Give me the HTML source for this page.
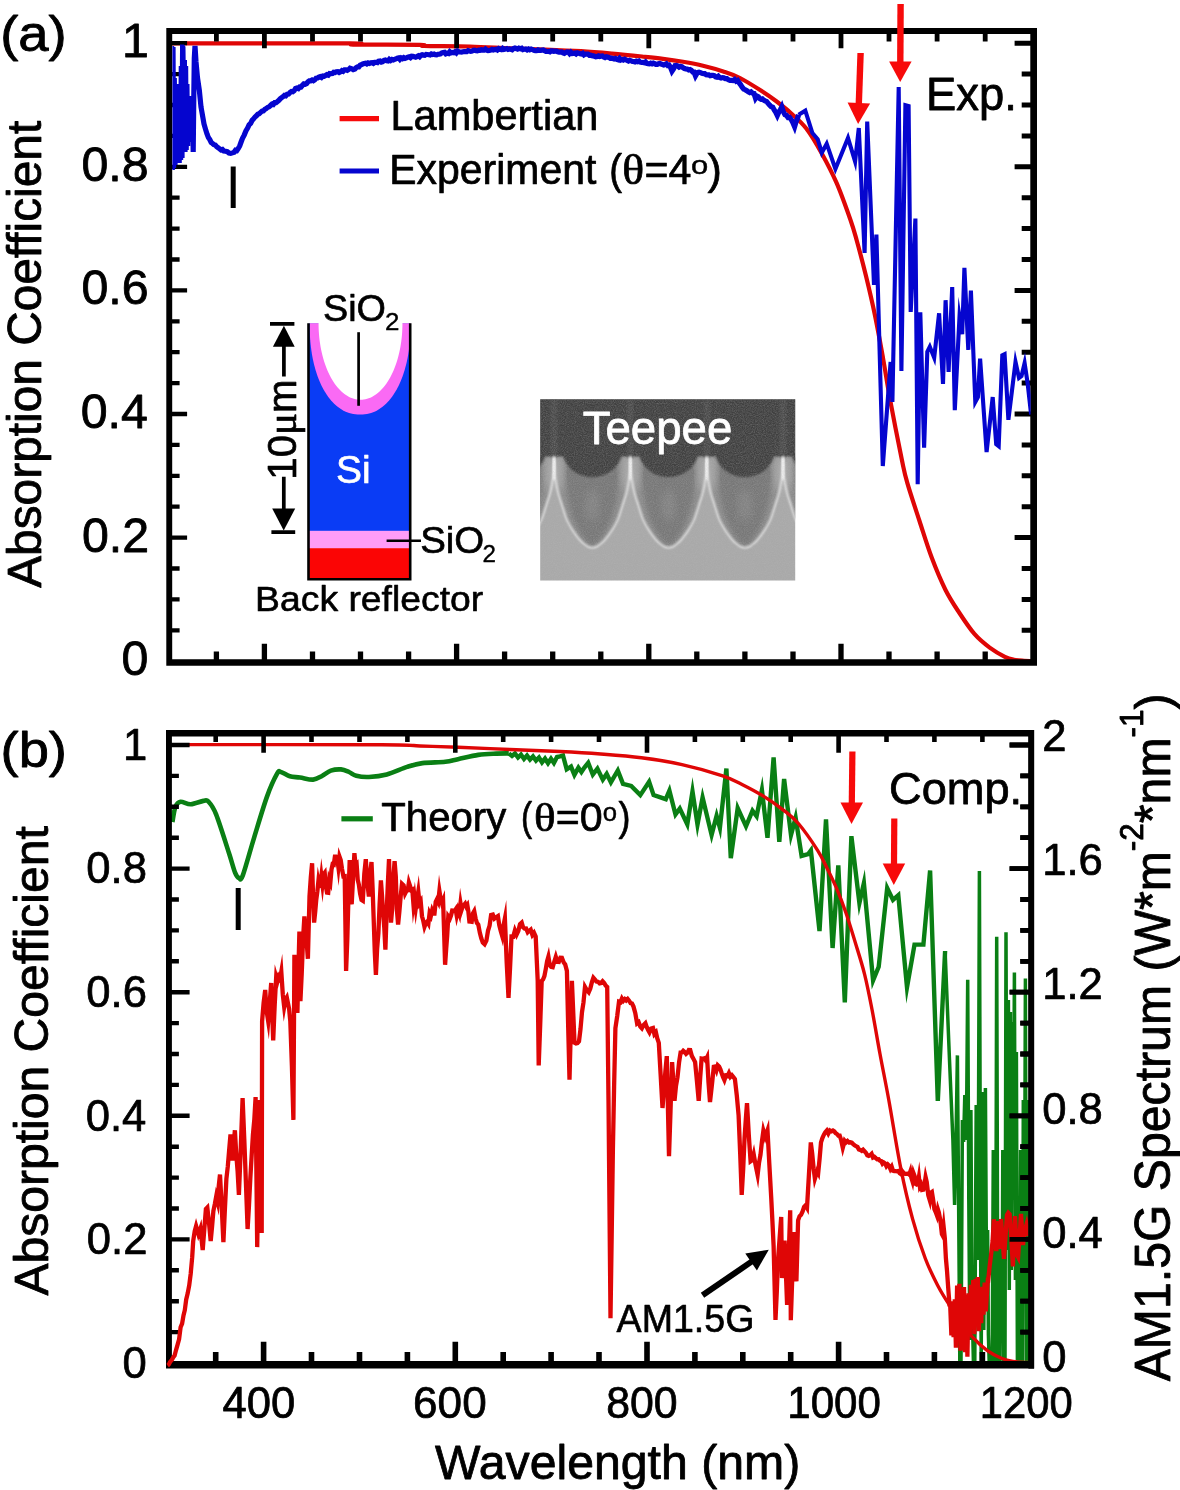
<!DOCTYPE html>
<html lang="en"><head><meta charset="utf-8"><title>Absorption coefficient: Lambertian, experiment and theory</title>
<style>html,body{margin:0;padding:0;background:#fff}svg{display:block}text{font-family:'Liberation Sans', Arial, Helvetica, sans-serif;fill:#000;stroke:#000;stroke-width:0.017em;stroke-linejoin:round}</style>
</head><body>
<svg width="1180" height="1490" viewBox="0 0 1180 1490">
<rect x="0" y="0" width="1180" height="1490" fill="#ffffff"/>
<g id="panel-a">
<clipPath id="clipA"><rect x="169.2" y="31.0" width="864.4" height="631.5"/></clipPath>
<g clip-path="url(#clipA)" fill="none" stroke-linejoin="miter" stroke-miterlimit="3">
<path d="M170.00 43.40 C200.00 43.40 319.50 43.20 350.00 43.40 C380.50 43.60 341.33 44.37 353.00 44.60 C364.67 44.83 408.17 44.58 420.00 44.80 C431.83 45.02 415.67 45.62 424.00 45.90 C432.33 46.18 455.67 46.10 470.00 46.50 C484.33 46.90 497.50 47.80 510.00 48.30 C522.50 48.80 533.17 49.02 545.00 49.50 C556.83 49.98 569.83 50.52 581.00 51.20 C592.17 51.88 601.83 52.72 612.00 53.60 C622.17 54.48 633.50 55.63 642.00 56.50 C650.50 57.37 656.17 57.92 663.00 58.80 C669.83 59.68 676.33 60.63 683.00 61.80 C689.67 62.97 696.17 64.15 703.00 65.80 C709.83 67.45 717.83 69.67 724.00 71.70 C730.17 73.73 733.92 74.90 740.00 78.00 C746.08 81.10 754.50 86.47 760.50 90.30 C766.50 94.13 770.92 97.18 776.00 101.00 C781.08 104.82 785.95 108.62 791.00 113.20 C796.05 117.78 801.22 121.88 806.30 128.50 C811.38 135.12 816.42 143.75 821.50 152.90 C826.58 162.05 831.97 172.22 836.80 183.40 C841.63 194.58 847.20 210.57 850.50 220.00 C853.80 229.43 854.02 230.67 856.60 240.00 C859.18 249.33 862.95 263.50 866.00 276.00 C869.05 288.50 872.07 301.33 874.90 315.00 C877.73 328.67 880.38 343.45 883.00 358.00 C885.62 372.55 887.45 385.30 890.60 402.30 C893.75 419.30 899.12 446.57 901.90 460.00 C904.68 473.43 904.37 472.73 907.30 482.90 C910.23 493.07 915.43 508.55 919.50 521.00 C923.57 533.45 927.38 546.15 931.70 557.60 C936.02 569.05 940.83 580.55 945.40 589.70 C949.97 598.85 954.27 605.13 959.10 612.50 C963.93 619.87 969.30 628.05 974.40 633.90 C979.50 639.75 984.62 643.78 989.70 647.60 C994.78 651.42 1000.85 654.77 1004.90 656.80 C1008.95 658.83 1010.82 659.13 1014.00 659.80 C1017.18 660.47 1021.17 660.60 1024.00 660.80 C1026.83 661.00 1029.83 660.97 1031.00 661.00" stroke="#df0606" stroke-width="4.2"/>
</g>
<path d="M166.3 28.0H1037.0V665.8H166.3ZM172.2 34.0V659.2H1030.3V34.0Z" fill="#000" fill-rule="evenodd"/>
<path d="M216.4 664.8V651.5M264.4 664.8V643.7M312.5 664.8V651.5M360.5 664.8V651.5M408.6 664.8V651.5M456.6 664.8V643.7M504.6 664.8V651.5M552.7 664.8V651.5M600.8 664.8V651.5M648.8 664.8V643.7M696.8 664.8V651.5M744.9 664.8V651.5M793.0 664.8V651.5M841.0 664.8V643.7M889.0 664.8V651.5M937.1 664.8V651.5M985.2 664.8V651.5" stroke="#000" stroke-width="5.3" fill="none"/><path d="M216.4 29.0V41.5M264.4 29.0V48.3M312.5 29.0V41.5M360.5 29.0V41.5M408.6 29.0V41.5M456.6 29.0V48.3M504.6 29.0V41.5M552.7 29.0V41.5M600.8 29.0V41.5M648.8 29.0V48.3M696.8 29.0V41.5M744.9 29.0V41.5M793.0 29.0V41.5M841.0 29.0V48.3M889.0 29.0V41.5M937.1 29.0V41.5M985.2 29.0V41.5" stroke="#000" stroke-width="4.8" fill="none"/><path d="M167.3 630.3H179.6M167.3 599.4H179.6M167.3 568.5H179.6M167.3 537.6H187.1M167.3 506.7H179.6M167.3 475.8H179.6M167.3 444.9H179.6M167.3 414.0H187.1M167.3 383.1H179.6M167.3 352.2H179.6M167.3 321.3H179.6M167.3 290.4H187.1M167.3 259.5H179.6M167.3 228.6H179.6M167.3 197.7H179.6M167.3 166.8H187.1M167.3 135.9H179.6M167.3 105.0H179.6M167.3 74.1H179.6M167.3 43.2H187.1" stroke="#000" stroke-width="4.3" fill="none"/><path d="M1036.0 630.3H1021.7M1036.0 599.4H1021.7M1036.0 568.5H1021.7M1036.0 537.6H1014.6M1036.0 506.7H1021.7M1036.0 475.8H1021.7M1036.0 444.9H1021.7M1036.0 414.0H1014.6M1036.0 383.1H1021.7M1036.0 352.2H1021.7M1036.0 321.3H1021.7M1036.0 290.4H1014.6M1036.0 259.5H1021.7M1036.0 228.6H1021.7M1036.0 197.7H1021.7M1036.0 166.8H1014.6M1036.0 135.9H1021.7M1036.0 105.0H1021.7M1036.0 74.1H1021.7M1036.0 43.2H1014.6" stroke="#000" stroke-width="5.0" fill="none"/>
<clipPath id="clipA2"><rect x="172.4" y="44.4" width="858.2" height="615.0"/></clipPath>
<g clip-path="url(#clipA2)" fill="none" stroke="#0505cf" stroke-linejoin="miter" stroke-miterlimit="10">
<polyline points="169.5,100.0 170.2,46.0 170.9,168.0 171.6,46.0 172.3,170.0 173.0,47.0 173.6,168.0 174.3,78.0 175.0,165.0 175.7,90.0 176.4,162.0 177.1,84.0 177.8,160.0 178.5,96.0 179.2,163.0 179.9,92.0 180.6,160.0 181.3,66.0 182.0,158.0 182.6,47.1 182.9,47.6 183.8,120.0 184.4,60.0 185.0,152.0 185.6,66.0 186.2,150.0 186.9,84.0 187.6,146.0 188.3,96.0 189.0,142.0 189.7,100.0 190.4,138.0 191.1,96.0 191.8,136.0 192.5,100.0 193.2,152.0 193.8,96.0 194.3,58.0 195.0,46.0 196.0,62.0 197.5,78.0 199.3,90.0 201.0,107.0 202.5,115.4 204.0,123.9 205.5,129.1 207.0,134.0 208.4,137.6 209.8,139.6 211.2,142.5 212.6,143.5 213.9,144.7 215.3,145.0 216.6,146.6 218.0,147.6 219.5,148.7 220.9,149.8 222.4,149.4 223.9,151.0 225.6,151.3 227.3,151.7 229.0,153.1 230.7,153.4 232.4,152.9 234.1,152.3 235.5,150.2 236.9,150.6 238.3,148.5 239.7,145.9 241.1,142.0 242.5,138.3 244.2,135.1 245.9,130.9 247.6,128.1 249.1,124.9 250.6,123.5 252.1,120.3 253.6,118.8 255.0,117.0 256.4,115.8 257.8,114.2 259.2,113.7 260.6,112.4 262.0,111.2 263.4,110.9 264.8,109.3 266.2,108.6 267.6,107.4 269.1,106.8 270.5,105.5 271.9,104.2 273.3,104.5 274.7,102.7 276.1,102.7 277.5,101.5 278.9,100.3 280.3,98.7 281.7,97.6 283.0,96.8 284.4,95.4 285.8,95.8 287.2,94.2 288.6,94.1 290.0,92.5 291.4,91.5 292.8,91.8 294.1,90.8 295.5,88.5 296.9,88.1 298.3,88.6 299.7,87.0 301.0,87.1 302.4,85.3 303.8,83.9 305.2,84.2 306.6,83.6 307.9,81.9 309.3,80.8 310.7,80.8 312.1,80.0 313.4,80.7 314.8,79.8 316.1,78.2 317.5,78.0 318.8,77.2 320.2,76.7 321.5,77.5 322.9,76.0 324.2,76.2 325.6,75.5 326.9,74.6 328.3,75.1 329.6,73.5 331.0,73.7 332.4,73.6 333.7,72.3 335.1,72.5 336.4,71.8 337.8,71.6 339.2,72.5 340.5,71.9 341.9,70.6 343.2,71.3 344.6,69.8 346.0,69.8 347.3,70.3 348.7,69.5 350.0,68.2 351.4,68.6 353.2,69.7 355.0,69.0 356.3,67.6 357.6,66.8 358.9,66.9 360.2,65.2 361.5,64.6 362.8,64.0 364.2,63.4 365.5,63.2 366.8,63.9 368.1,63.0 369.5,63.5 370.8,62.8 372.1,62.7 373.4,63.4 374.8,62.4 376.1,62.3 377.4,62.6 378.7,61.1 380.1,60.9 381.4,62.0 382.7,61.6 384.0,60.4 385.4,60.1 386.7,60.8 388.0,61.0 389.3,59.4 390.7,60.5 392.0,59.5 393.3,60.0 394.6,59.4 395.9,58.9 397.3,58.1 398.6,57.8 399.9,59.3 401.2,57.9 402.5,58.6 403.8,57.6 405.1,58.4 406.4,57.9 407.8,57.2 409.1,56.8 410.4,57.6 411.7,56.3 413.0,56.4 414.3,56.8 415.6,57.2 416.9,56.6 418.3,55.8 419.6,56.8 420.9,55.3 422.2,54.8 423.5,55.1 424.8,55.3 426.1,54.4 427.4,54.5 428.8,54.7 430.1,54.9 431.4,53.9 432.7,54.4 434.0,54.0 435.3,54.8 436.6,54.9 438.0,54.2 439.3,54.1 440.6,53.8 441.9,52.8 443.2,52.5 444.5,52.3 445.8,53.8 447.1,53.3 448.5,53.6 449.8,51.8 451.1,52.8 452.4,52.4 453.7,52.7 455.0,51.8 456.3,52.9 457.6,51.1 459.0,51.8 460.3,52.0 461.6,52.2 462.9,51.8 464.2,51.6 465.5,51.6 466.8,51.7 468.1,50.6 469.5,51.0 470.8,51.3 472.1,51.1 473.4,50.3 474.7,50.1 476.1,50.7 477.4,50.8 478.7,50.2 480.0,50.3 481.4,49.8 482.7,50.1 484.0,50.1 485.4,49.1 486.7,50.1 488.0,50.6 489.4,50.4 490.7,50.1 492.0,49.4 493.4,50.0 494.7,49.6 496.0,49.3 497.3,50.0 498.7,48.6 500.0,49.3 501.4,49.7 502.7,48.4 504.1,49.4 505.4,49.1 506.8,48.6 508.1,49.4 509.5,49.0 510.8,49.2 512.2,49.7 513.5,48.5 514.9,48.0 516.2,48.5 517.6,49.1 518.9,48.2 520.3,48.7 521.7,48.2 523.0,49.6 524.4,49.3 525.7,49.0 527.1,49.9 528.5,49.0 529.8,49.7 531.2,49.0 532.5,49.5 533.9,50.3 535.3,50.6 536.6,50.7 538.0,49.9 539.3,50.3 540.7,50.3 542.0,50.1 543.3,49.9 544.6,50.7 546.0,51.4 547.3,51.5 548.6,51.4 549.9,51.9 551.2,50.9 552.5,50.8 553.8,51.4 555.1,51.2 556.5,51.2 557.8,51.7 559.1,52.2 560.4,52.1 561.7,51.9 563.0,52.9 564.3,53.3 565.6,52.5 567.0,51.9 568.3,52.0 569.6,53.6 570.9,52.2 572.2,53.5 573.5,53.4 574.8,53.1 576.1,54.0 577.5,52.8 578.8,53.1 580.1,53.8 581.4,54.0 582.7,53.3 584.0,54.9 585.3,54.1 586.6,54.1 587.9,54.1 589.3,55.3 590.6,55.1 591.9,55.7 593.2,55.9 594.5,56.3 595.8,56.8 597.1,56.5 598.4,55.8 599.7,56.4 601.0,56.1 602.4,56.0 603.7,57.0 605.0,57.6 606.3,56.8 607.6,57.1 608.9,57.4 610.2,58.3 611.5,58.1 612.8,58.5 614.1,58.9 615.5,58.4 616.8,59.3 618.1,59.7 619.4,58.4 620.7,60.1 622.0,59.5 623.3,60.1 624.6,59.2 625.9,59.9 627.2,60.4 628.5,61.1 629.8,60.3 631.1,60.8 632.4,61.5 633.7,61.5 635.0,61.9 636.3,61.2 637.6,61.7 639.0,61.1 640.3,62.2 641.6,62.5 642.9,62.4 644.2,62.7 645.5,61.9 646.8,63.3 648.1,63.6 649.4,63.8 650.7,63.2 652.0,63.8 653.3,63.1 654.6,63.6 655.9,64.5 657.2,64.5 658.5,63.7 659.8,63.4 661.1,64.1 662.5,64.5 663.8,65.0 665.1,64.6 666.4,63.9 667.7,65.4 669.0,65.0 670.5,67.3 672.0,71.2 673.5,69.0 675.0,65.6 676.4,65.4 677.7,66.0 679.1,67.2 680.5,66.4 681.8,66.7 683.2,67.8 684.5,68.5 685.9,69.0 687.3,69.1 688.6,69.9 690.0,69.5 691.3,70.3 692.7,72.0 694.0,72.0 695.5,76.0 697.5,72.5 699.0,72.1 700.5,72.6 701.9,73.4 703.4,73.7 704.8,73.6 706.1,74.7 707.5,74.8 708.8,74.8 710.2,75.7 711.5,75.4 712.9,75.3 714.2,75.7 715.6,76.8 716.9,77.2 718.3,76.2 719.6,77.6 721.0,78.1 722.3,77.6 723.7,77.8 725.3,78.6 726.9,78.6 728.4,79.8 730.0,80.4 731.5,80.4 733.0,80.6 734.6,79.5 736.1,81.2 737.6,80.4 739.1,82.7 740.7,84.8 742.2,87.3 743.7,89.0 745.2,89.7 746.8,90.7 748.3,91.9 749.7,92.6 751.1,91.9 752.6,93.2 754.0,93.5 755.5,98.3 757.0,96.0 758.4,96.7 759.7,98.5 761.0,99.3 762.4,98.9 763.8,100.1 765.1,101.0 766.6,101.5 768.1,103.3 769.7,105.2 771.2,106.6 772.7,107.1 774.2,109.9 775.8,112.4 777.3,115.5 778.8,112.1 780.3,110.0 781.8,106.9 783.3,111.6 784.9,114.7 786.4,115.2 788.0,117.5 789.5,117.3 791.0,119.3 792.8,122.4 794.6,126.7 795.9,122.2 797.3,119.0 798.6,114.7" stroke-width="5.2" stroke-miterlimit="4"/>
<polyline points="798.6,114.7 805.3,110.7 812.4,133.0 817.7,139.2 821.8,152.7 826.7,143.7 835.4,168.9 848.0,137.9 855.1,161.5 858.8,128.0 864.6,253.0 867.2,121.5 874.0,285.0 876.4,234.6 882.8,466.0 890.6,362.0 892.4,402.0 898.7,87.0 901.4,371.0 905.4,105.1 908.6,106.0 910.7,312.0 915.4,218.5 917.7,484.3 920.3,312.4 924.1,447.7 927.3,351.7 929.8,346.7 934.2,357.7 939.1,313.3 943.0,384.0 945.6,300.2 948.6,371.8 952.2,287.1 954.8,410.2 959.5,316.8 962.2,334.2 964.4,267.9 968.3,349.9 970.9,290.6 975.3,401.9 977.9,397.1 980.1,358.7 986.6,452.0 992.7,397.1 996.2,444.2 998.7,446.2 1002.3,355.2 1004.6,354.1 1008.4,419.8 1015.5,361.9 1019.0,378.0 1021.5,376.1 1024.6,363.0 1027.6,383.1 1031.1,414.5" stroke-width="4.1"/>
</g>
<line x1="860.6" y1="53.0" x2="858.8" y2="104.0" stroke="#f70a0a" stroke-width="6.4"/><polygon points="858.1,124.0 847.6,102.6 870.1,103.4" fill="#f70a0a"/>
<line x1="900.6" y1="4.0" x2="900.3" y2="62.5" stroke="#f70a0a" stroke-width="6.4"/><polygon points="900.2,82.0 889.1,61.4 911.6,61.6" fill="#f70a0a"/>
<line x1="233.2" y1="166.5" x2="233.2" y2="208" stroke="#000" stroke-width="5"/>
<line x1="339.6" y1="118.6" x2="379" y2="118.6" stroke="#f70a0a" stroke-width="5.2"/>
<line x1="339.6" y1="171" x2="379" y2="171" stroke="#0505cf" stroke-width="5.2"/>
<text transform="translate(390.47,129.70) scale(0.9944,1)" font-size="41.80">Lambertian</text>
<text transform="translate(389.33,184.00) scale(0.9791,1)" font-size="41.80">Experiment</text>
<text transform="translate(609.29,184.00) scale(0.9208,1)" font-size="41.80">(</text>
<text transform="translate(622.25,184.40) scale(1.0998,1)" font-size="41.50" style="font-family:'Liberation Serif','Times New Roman',serif">θ</text>
<text transform="translate(644.54,184.00) scale(0.9839,1)" font-size="41.80">=4</text>
<text transform="translate(691.06,173.70) scale(1.1678,1)" font-size="26.50">o</text>
<text transform="translate(707.38,184.00) scale(1.0292,1)" font-size="41.80">)</text>
<text transform="translate(926.07,109.90) scale(0.9860,1)" font-size="46.00">Exp.</text>
<text transform="translate(0.13,51.10) scale(1.0783,1)" font-size="50.50">(a)</text>
<text transform="translate(121.97,57.10) scale(1.0000,1)" font-size="48.30">1</text>
<text transform="translate(81.39,180.70) scale(1.0000,1)" font-size="48.30">0.8</text>
<text transform="translate(81.39,304.30) scale(1.0000,1)" font-size="48.30">0.6</text>
<text transform="translate(80.67,427.90) scale(1.0000,1)" font-size="48.30">0.4</text>
<text transform="translate(81.88,551.50) scale(1.0000,1)" font-size="48.30">0.2</text>
<text transform="translate(121.48,675.10) scale(1.0000,1)" font-size="48.30">0</text>
<text transform="translate(41.30,587.80) rotate(-90) scale(0.9864,1.0000)" font-size="48.50">Absorption Coefficient</text>
<g id="schematic">
<rect x="308.6" y="323.5" width="101.4" height="207.5" fill="#0a3cf5"/>
<rect x="308.6" y="530.8" width="101.4" height="17.6" fill="#ff9cf7"/>
<rect x="308.6" y="548.2" width="101.4" height="31.3" fill="#fb0505"/>
<path d="M309.60 323.30 L309.64 327.79 L309.74 331.86 L309.93 335.76 L310.18 339.56 L310.50 343.26 L310.90 346.89 L311.37 350.44 L311.90 353.92 L312.51 357.33 L313.19 360.66 L313.93 363.92 L314.74 367.10 L315.62 370.20 L316.56 373.21 L317.57 376.15 L318.64 378.99 L319.77 381.75 L320.96 384.41 L322.21 386.97 L323.52 389.44 L324.88 391.80 L326.30 394.06 L327.77 396.22 L329.30 398.26 L330.87 400.20 L332.49 402.02 L334.16 403.72 L335.87 405.31 L337.63 406.77 L339.44 408.12 L341.28 409.34 L343.16 410.44 L345.09 411.41 L347.05 412.25 L349.06 412.97 L351.11 413.55 L353.21 414.01 L355.37 414.34 L357.61 414.53 L360.10 414.60 L362.59 414.53 L364.83 414.34 L366.99 414.01 L369.09 413.55 L371.14 412.97 L373.15 412.25 L375.11 411.41 L377.04 410.44 L378.92 409.34 L380.76 408.12 L382.57 406.77 L384.33 405.31 L386.04 403.72 L387.71 402.02 L389.33 400.20 L390.90 398.26 L392.43 396.22 L393.90 394.06 L395.32 391.80 L396.68 389.44 L397.99 386.97 L399.24 384.41 L400.43 381.75 L401.56 378.99 L402.63 376.15 L403.64 373.21 L404.58 370.20 L405.46 367.10 L406.27 363.92 L407.01 360.66 L407.69 357.33 L408.30 353.92 L408.83 350.44 L409.30 346.89 L409.70 343.26 L410.02 339.56 L410.27 335.76 L410.46 331.86 L410.56 327.79 L410.60 323.30 Z" fill="#fa6af4"/>
<path d="M318.5 321 L318.55 323.30 L318.58 326.30 L318.68 329.30 L318.84 332.29 L319.07 335.27 L319.36 338.22 L319.71 341.16 L320.13 344.07 L320.60 346.94 L321.14 349.78 L321.74 352.58 L322.40 355.33 L323.12 358.03 L323.90 360.68 L324.73 363.27 L325.62 365.80 L326.56 368.27 L327.56 370.66 L328.60 372.98 L329.70 375.23 L330.84 377.39 L332.02 379.48 L333.26 381.47 L334.53 383.38 L335.84 385.19 L337.19 386.91 L338.58 388.53 L340.00 390.05 L341.46 391.46 L342.94 392.77 L344.45 393.98 L345.98 395.07 L347.54 396.06 L349.11 396.93 L350.71 397.69 L352.32 398.33 L353.94 398.86 L355.57 399.27 L357.21 399.56 L358.85 399.74 L360.50 399.80 L362.15 399.74 L363.79 399.56 L365.43 399.27 L367.06 398.86 L368.68 398.33 L370.29 397.69 L371.89 396.93 L373.46 396.06 L375.02 395.07 L376.55 393.98 L378.06 392.77 L379.54 391.46 L381.00 390.05 L382.42 388.53 L383.81 386.91 L385.16 385.19 L386.47 383.38 L387.74 381.47 L388.98 379.48 L390.16 377.39 L391.30 375.23 L392.40 372.98 L393.44 370.66 L394.44 368.27 L395.38 365.80 L396.27 363.27 L397.10 360.68 L397.88 358.03 L398.60 355.33 L399.26 352.58 L399.86 349.78 L400.40 346.94 L400.87 344.07 L401.29 341.16 L401.64 338.22 L401.93 335.27 L402.16 332.29 L402.32 329.30 L402.42 326.30 L402.45 323.30 L402.5 321 Z" fill="#ffffff"/>
<path d="M308.5 323.3V579.3H410.2V323.3" fill="none" stroke="#000" stroke-width="2.6"/>
<line x1="358.6" y1="332.2" x2="358.6" y2="405.8" stroke="#000" stroke-width="2.7"/>
<line x1="386.6" y1="540.7" x2="421" y2="540.7" stroke="#000" stroke-width="2.6"/>
<text transform="translate(323.00,321.20) scale(1.0101,1)" font-size="37.40">SiO</text>
<text transform="translate(384.90,329.60) scale(1.0585,1)" font-size="24.50">2</text>
<text transform="translate(420.17,552.90) scale(1.0179,1)" font-size="37.80">SiO</text>
<text transform="translate(482.39,561.50) scale(1.0288,1)" font-size="23.50">2</text>
<text transform="translate(335.95,483.20) scale(1.0121,1)" font-size="38.50" style="fill:#fff;stroke:#fff">Si</text>
<text transform="translate(255.11,611.30) scale(1.0664,1)" font-size="35.00">Back reflector</text>
<path d="M270 323.9H294.4M271.4 532.1H295.2" stroke="#000" stroke-width="3.6" fill="none"/>
<path d="M283.9 344V376.6M283.8 476.7V510" stroke="#000" stroke-width="3.7" fill="none"/>
<polygon points="283.9,325.8 272.9,346.7 294.7,346.7" fill="#000"/>
<polygon points="283.7,530.4 272.2,508.5 295.2,508.5" fill="#000"/>
<text transform="translate(296.4,479.7) rotate(-90)" font-size="40.2">10<tspan style="font-family:'Liberation Serif','Times New Roman',serif" font-size="41">μ</tspan>m</text>
</g>
<g id="sem">
<defs>
<clipPath id="semclip"><rect x="540.2" y="399.2" width="255.0" height="181.4"/></clipPath>
<filter id="b1" x="-10%" y="-10%" width="120%" height="120%"><feGaussianBlur stdDeviation="1.0"/></filter>
<filter id="b2" x="-10%" y="-10%" width="120%" height="120%"><feGaussianBlur stdDeviation="2.4"/></filter>
<filter id="b3" x="-20%" y="-20%" width="140%" height="140%"><feGaussianBlur stdDeviation="4"/></filter>
<filter id="grain" x="0" y="0" width="100%" height="100%"><feTurbulence type="fractalNoise" baseFrequency="0.9" numOctaves="2" seed="4" result="n"/><feColorMatrix in="n" type="matrix" values="0 0 0 0 0.5  0 0 0 0 0.5  0 0 0 0 0.5  0.9 0.9 0.9 0 -1.05"/></filter>
<linearGradient id="pitg" x1="0" y1="0" x2="0" y2="1"><stop offset="0" stop-color="#8f8f8f"/><stop offset="0.55" stop-color="#858585"/><stop offset="1" stop-color="#707070"/></linearGradient>
</defs>
<g clip-path="url(#semclip)">
<rect x="539" y="398" width="258" height="184" fill="#a9a9a9"/>
<path d="M477.85 457.50 C477.94 459.58 478.14 466.18 478.40 470.00 C478.66 473.82 478.80 476.62 479.40 480.40 C480.00 484.18 480.94 488.63 482.00 492.70 C483.06 496.77 484.85 501.92 485.75 504.80 C486.65 507.68 486.56 507.47 487.40 510.00 C488.24 512.53 489.28 516.63 490.80 520.00 C492.32 523.37 494.30 526.82 496.50 530.20 C498.70 533.58 501.70 537.72 504.00 540.30 C506.30 542.88 508.97 544.63 510.30 545.70 C511.63 546.77 511.05 546.37 512.00 546.70 C512.95 547.03 514.67 547.70 516.00 547.70 C517.33 547.70 519.05 547.03 520.00 546.70 C520.95 546.37 520.37 546.77 521.70 545.70 C523.03 544.63 525.70 542.88 528.00 540.30 C530.30 537.72 533.30 533.58 535.50 530.20 C537.70 526.82 539.68 523.37 541.20 520.00 C542.72 516.63 543.76 512.53 544.60 510.00 C545.44 507.47 545.35 507.68 546.25 504.80 C547.15 501.92 548.94 496.77 550.00 492.70 C551.06 488.63 552.00 484.18 552.60 480.40 C553.20 476.62 553.34 473.82 553.60 470.00 C553.86 466.18 554.06 459.58 554.15 457.50 Z" fill="#8e8e8e"/>
<path d="M488.50 465.50 C488.58 467.62 488.58 473.20 489.00 478.20 C489.42 483.20 490.25 490.57 491.00 495.50 C491.75 500.43 492.58 504.08 493.50 507.80 C494.42 511.52 495.25 514.43 496.50 517.80 C497.75 521.17 499.25 524.62 501.00 528.00 C502.75 531.38 504.50 535.18 507.00 538.10 C509.50 541.02 513.00 545.50 516.00 545.50 C519.00 545.50 522.50 541.02 525.00 538.10 C527.50 535.18 529.25 531.38 531.00 528.00 C532.75 524.62 534.25 521.17 535.50 517.80 C536.75 514.43 537.58 511.52 538.50 507.80 C539.42 504.08 540.25 500.43 541.00 495.50 C541.75 490.57 542.58 483.20 543.00 478.20 C543.42 473.20 543.42 467.62 543.50 465.50 Z" fill="#767676" filter="url(#b2)" opacity="0.95"/>
<ellipse cx="516.0" cy="505" rx="7" ry="16" fill="#8a8a8a" opacity="0.7" filter="url(#b3)"/>
<path d="M554.15 457.50 C554.24 459.58 554.44 466.18 554.70 470.00 C554.96 473.82 555.10 476.62 555.70 480.40 C556.30 484.18 557.24 488.63 558.30 492.70 C559.36 496.77 561.15 501.92 562.05 504.80 C562.95 507.68 562.86 507.47 563.70 510.00 C564.54 512.53 565.58 516.63 567.10 520.00 C568.62 523.37 570.60 526.82 572.80 530.20 C575.00 533.58 578.00 537.72 580.30 540.30 C582.60 542.88 585.27 544.63 586.60 545.70 C587.93 546.77 587.35 546.37 588.30 546.70 C589.25 547.03 590.97 547.70 592.30 547.70 C593.63 547.70 595.35 547.03 596.30 546.70 C597.25 546.37 596.67 546.77 598.00 545.70 C599.33 544.63 602.00 542.88 604.30 540.30 C606.60 537.72 609.60 533.58 611.80 530.20 C614.00 526.82 615.98 523.37 617.50 520.00 C619.02 516.63 620.06 512.53 620.90 510.00 C621.74 507.47 621.65 507.68 622.55 504.80 C623.45 501.92 625.24 496.77 626.30 492.70 C627.36 488.63 628.30 484.18 628.90 480.40 C629.50 476.62 629.64 473.82 629.90 470.00 C630.16 466.18 630.36 459.58 630.45 457.50 Z" fill="#8e8e8e"/>
<path d="M564.80 465.50 C564.88 467.62 564.88 473.20 565.30 478.20 C565.72 483.20 566.55 490.57 567.30 495.50 C568.05 500.43 568.88 504.08 569.80 507.80 C570.72 511.52 571.55 514.43 572.80 517.80 C574.05 521.17 575.55 524.62 577.30 528.00 C579.05 531.38 580.80 535.18 583.30 538.10 C585.80 541.02 589.30 545.50 592.30 545.50 C595.30 545.50 598.80 541.02 601.30 538.10 C603.80 535.18 605.55 531.38 607.30 528.00 C609.05 524.62 610.55 521.17 611.80 517.80 C613.05 514.43 613.88 511.52 614.80 507.80 C615.72 504.08 616.55 500.43 617.30 495.50 C618.05 490.57 618.88 483.20 619.30 478.20 C619.72 473.20 619.72 467.62 619.80 465.50 Z" fill="#767676" filter="url(#b2)" opacity="0.95"/>
<ellipse cx="592.3" cy="505" rx="7" ry="16" fill="#8a8a8a" opacity="0.7" filter="url(#b3)"/>
<path d="M630.45 457.50 C630.54 459.58 630.74 466.18 631.00 470.00 C631.26 473.82 631.40 476.62 632.00 480.40 C632.60 484.18 633.54 488.63 634.60 492.70 C635.66 496.77 637.45 501.92 638.35 504.80 C639.25 507.68 639.16 507.47 640.00 510.00 C640.84 512.53 641.88 516.63 643.40 520.00 C644.92 523.37 646.90 526.82 649.10 530.20 C651.30 533.58 654.30 537.72 656.60 540.30 C658.90 542.88 661.57 544.63 662.90 545.70 C664.23 546.77 663.65 546.37 664.60 546.70 C665.55 547.03 667.27 547.70 668.60 547.70 C669.93 547.70 671.65 547.03 672.60 546.70 C673.55 546.37 672.97 546.77 674.30 545.70 C675.63 544.63 678.30 542.88 680.60 540.30 C682.90 537.72 685.90 533.58 688.10 530.20 C690.30 526.82 692.28 523.37 693.80 520.00 C695.32 516.63 696.36 512.53 697.20 510.00 C698.04 507.47 697.95 507.68 698.85 504.80 C699.75 501.92 701.54 496.77 702.60 492.70 C703.66 488.63 704.60 484.18 705.20 480.40 C705.80 476.62 705.94 473.82 706.20 470.00 C706.46 466.18 706.66 459.58 706.75 457.50 Z" fill="#8e8e8e"/>
<path d="M641.10 465.50 C641.18 467.62 641.18 473.20 641.60 478.20 C642.02 483.20 642.85 490.57 643.60 495.50 C644.35 500.43 645.18 504.08 646.10 507.80 C647.02 511.52 647.85 514.43 649.10 517.80 C650.35 521.17 651.85 524.62 653.60 528.00 C655.35 531.38 657.10 535.18 659.60 538.10 C662.10 541.02 665.60 545.50 668.60 545.50 C671.60 545.50 675.10 541.02 677.60 538.10 C680.10 535.18 681.85 531.38 683.60 528.00 C685.35 524.62 686.85 521.17 688.10 517.80 C689.35 514.43 690.18 511.52 691.10 507.80 C692.02 504.08 692.85 500.43 693.60 495.50 C694.35 490.57 695.18 483.20 695.60 478.20 C696.02 473.20 696.02 467.62 696.10 465.50 Z" fill="#767676" filter="url(#b2)" opacity="0.95"/>
<ellipse cx="668.6" cy="505" rx="7" ry="16" fill="#8a8a8a" opacity="0.7" filter="url(#b3)"/>
<path d="M706.75 457.50 C706.84 459.58 707.04 466.18 707.30 470.00 C707.56 473.82 707.70 476.62 708.30 480.40 C708.90 484.18 709.84 488.63 710.90 492.70 C711.96 496.77 713.75 501.92 714.65 504.80 C715.55 507.68 715.46 507.47 716.30 510.00 C717.14 512.53 718.18 516.63 719.70 520.00 C721.22 523.37 723.20 526.82 725.40 530.20 C727.60 533.58 730.60 537.72 732.90 540.30 C735.20 542.88 737.87 544.63 739.20 545.70 C740.53 546.77 739.95 546.37 740.90 546.70 C741.85 547.03 743.57 547.70 744.90 547.70 C746.23 547.70 747.95 547.03 748.90 546.70 C749.85 546.37 749.27 546.77 750.60 545.70 C751.93 544.63 754.60 542.88 756.90 540.30 C759.20 537.72 762.20 533.58 764.40 530.20 C766.60 526.82 768.58 523.37 770.10 520.00 C771.62 516.63 772.66 512.53 773.50 510.00 C774.34 507.47 774.25 507.68 775.15 504.80 C776.05 501.92 777.84 496.77 778.90 492.70 C779.96 488.63 780.90 484.18 781.50 480.40 C782.10 476.62 782.24 473.82 782.50 470.00 C782.76 466.18 782.96 459.58 783.05 457.50 Z" fill="#8e8e8e"/>
<path d="M717.40 465.50 C717.48 467.62 717.48 473.20 717.90 478.20 C718.32 483.20 719.15 490.57 719.90 495.50 C720.65 500.43 721.48 504.08 722.40 507.80 C723.32 511.52 724.15 514.43 725.40 517.80 C726.65 521.17 728.15 524.62 729.90 528.00 C731.65 531.38 733.40 535.18 735.90 538.10 C738.40 541.02 741.90 545.50 744.90 545.50 C747.90 545.50 751.40 541.02 753.90 538.10 C756.40 535.18 758.15 531.38 759.90 528.00 C761.65 524.62 763.15 521.17 764.40 517.80 C765.65 514.43 766.48 511.52 767.40 507.80 C768.32 504.08 769.15 500.43 769.90 495.50 C770.65 490.57 771.48 483.20 771.90 478.20 C772.32 473.20 772.32 467.62 772.40 465.50 Z" fill="#767676" filter="url(#b2)" opacity="0.95"/>
<ellipse cx="744.9" cy="505" rx="7" ry="16" fill="#8a8a8a" opacity="0.7" filter="url(#b3)"/>
<path d="M783.05 457.50 C783.14 459.58 783.34 466.18 783.60 470.00 C783.86 473.82 784.00 476.62 784.60 480.40 C785.20 484.18 786.14 488.63 787.20 492.70 C788.26 496.77 790.05 501.92 790.95 504.80 C791.85 507.68 791.76 507.47 792.60 510.00 C793.44 512.53 794.48 516.63 796.00 520.00 C797.52 523.37 799.50 526.82 801.70 530.20 C803.90 533.58 806.90 537.72 809.20 540.30 C811.50 542.88 814.17 544.63 815.50 545.70 C816.83 546.77 816.25 546.37 817.20 546.70 C818.15 547.03 819.87 547.70 821.20 547.70 C822.53 547.70 824.25 547.03 825.20 546.70 C826.15 546.37 825.57 546.77 826.90 545.70 C828.23 544.63 830.90 542.88 833.20 540.30 C835.50 537.72 838.50 533.58 840.70 530.20 C842.90 526.82 844.88 523.37 846.40 520.00 C847.92 516.63 848.96 512.53 849.80 510.00 C850.64 507.47 850.55 507.68 851.45 504.80 C852.35 501.92 854.14 496.77 855.20 492.70 C856.26 488.63 857.20 484.18 857.80 480.40 C858.40 476.62 858.54 473.82 858.80 470.00 C859.06 466.18 859.26 459.58 859.35 457.50 Z" fill="#8e8e8e"/>
<path d="M793.70 465.50 C793.78 467.62 793.78 473.20 794.20 478.20 C794.62 483.20 795.45 490.57 796.20 495.50 C796.95 500.43 797.78 504.08 798.70 507.80 C799.62 511.52 800.45 514.43 801.70 517.80 C802.95 521.17 804.45 524.62 806.20 528.00 C807.95 531.38 809.70 535.18 812.20 538.10 C814.70 541.02 818.20 545.50 821.20 545.50 C824.20 545.50 827.70 541.02 830.20 538.10 C832.70 535.18 834.45 531.38 836.20 528.00 C837.95 524.62 839.45 521.17 840.70 517.80 C841.95 514.43 842.78 511.52 843.70 507.80 C844.62 504.08 845.45 500.43 846.20 495.50 C846.95 490.57 847.78 483.20 848.20 478.20 C848.62 473.20 848.62 467.62 848.70 465.50 Z" fill="#767676" filter="url(#b2)" opacity="0.95"/>
<ellipse cx="821.2" cy="505" rx="7" ry="16" fill="#8a8a8a" opacity="0.7" filter="url(#b3)"/>
<ellipse cx="554.1" cy="472" rx="9" ry="20" fill="#b2b2b2" opacity="0.75" filter="url(#b3)"/>
<ellipse cx="630.4" cy="472" rx="9" ry="20" fill="#b2b2b2" opacity="0.75" filter="url(#b3)"/>
<ellipse cx="706.8" cy="472" rx="9" ry="20" fill="#b2b2b2" opacity="0.75" filter="url(#b3)"/>
<ellipse cx="783.0" cy="472" rx="9" ry="20" fill="#b2b2b2" opacity="0.75" filter="url(#b3)"/>
<path d="M477.85 457.50 C477.94 459.58 478.14 466.18 478.40 470.00 C478.66 473.82 478.80 476.62 479.40 480.40 C480.00 484.18 480.94 488.63 482.00 492.70 C483.06 496.77 484.85 501.92 485.75 504.80 C486.65 507.68 486.56 507.47 487.40 510.00 C488.24 512.53 489.28 516.63 490.80 520.00 C492.32 523.37 494.30 526.82 496.50 530.20 C498.70 533.58 501.70 537.72 504.00 540.30 C506.30 542.88 508.97 544.63 510.30 545.70 C511.63 546.77 511.05 546.37 512.00 546.70 C512.95 547.03 514.67 547.70 516.00 547.70 C517.33 547.70 519.05 547.03 520.00 546.70 C520.95 546.37 520.37 546.77 521.70 545.70 C523.03 544.63 525.70 542.88 528.00 540.30 C530.30 537.72 533.30 533.58 535.50 530.20 C537.70 526.82 539.68 523.37 541.20 520.00 C542.72 516.63 543.76 512.53 544.60 510.00 C545.44 507.47 545.35 507.68 546.25 504.80 C547.15 501.92 548.94 496.77 550.00 492.70 C551.06 488.63 552.00 484.18 552.60 480.40 C553.20 476.62 553.34 473.82 553.60 470.00 C553.86 466.18 554.06 459.58 554.15 457.50" fill="none" stroke="#f4f4f4" stroke-width="1.8" filter="url(#b1)" opacity="0.9"/>
<path d="M554.15 457.50 C554.24 459.58 554.44 466.18 554.70 470.00 C554.96 473.82 555.10 476.62 555.70 480.40 C556.30 484.18 557.24 488.63 558.30 492.70 C559.36 496.77 561.15 501.92 562.05 504.80 C562.95 507.68 562.86 507.47 563.70 510.00 C564.54 512.53 565.58 516.63 567.10 520.00 C568.62 523.37 570.60 526.82 572.80 530.20 C575.00 533.58 578.00 537.72 580.30 540.30 C582.60 542.88 585.27 544.63 586.60 545.70 C587.93 546.77 587.35 546.37 588.30 546.70 C589.25 547.03 590.97 547.70 592.30 547.70 C593.63 547.70 595.35 547.03 596.30 546.70 C597.25 546.37 596.67 546.77 598.00 545.70 C599.33 544.63 602.00 542.88 604.30 540.30 C606.60 537.72 609.60 533.58 611.80 530.20 C614.00 526.82 615.98 523.37 617.50 520.00 C619.02 516.63 620.06 512.53 620.90 510.00 C621.74 507.47 621.65 507.68 622.55 504.80 C623.45 501.92 625.24 496.77 626.30 492.70 C627.36 488.63 628.30 484.18 628.90 480.40 C629.50 476.62 629.64 473.82 629.90 470.00 C630.16 466.18 630.36 459.58 630.45 457.50" fill="none" stroke="#f4f4f4" stroke-width="1.8" filter="url(#b1)" opacity="0.9"/>
<path d="M630.45 457.50 C630.54 459.58 630.74 466.18 631.00 470.00 C631.26 473.82 631.40 476.62 632.00 480.40 C632.60 484.18 633.54 488.63 634.60 492.70 C635.66 496.77 637.45 501.92 638.35 504.80 C639.25 507.68 639.16 507.47 640.00 510.00 C640.84 512.53 641.88 516.63 643.40 520.00 C644.92 523.37 646.90 526.82 649.10 530.20 C651.30 533.58 654.30 537.72 656.60 540.30 C658.90 542.88 661.57 544.63 662.90 545.70 C664.23 546.77 663.65 546.37 664.60 546.70 C665.55 547.03 667.27 547.70 668.60 547.70 C669.93 547.70 671.65 547.03 672.60 546.70 C673.55 546.37 672.97 546.77 674.30 545.70 C675.63 544.63 678.30 542.88 680.60 540.30 C682.90 537.72 685.90 533.58 688.10 530.20 C690.30 526.82 692.28 523.37 693.80 520.00 C695.32 516.63 696.36 512.53 697.20 510.00 C698.04 507.47 697.95 507.68 698.85 504.80 C699.75 501.92 701.54 496.77 702.60 492.70 C703.66 488.63 704.60 484.18 705.20 480.40 C705.80 476.62 705.94 473.82 706.20 470.00 C706.46 466.18 706.66 459.58 706.75 457.50" fill="none" stroke="#f4f4f4" stroke-width="1.8" filter="url(#b1)" opacity="0.9"/>
<path d="M706.75 457.50 C706.84 459.58 707.04 466.18 707.30 470.00 C707.56 473.82 707.70 476.62 708.30 480.40 C708.90 484.18 709.84 488.63 710.90 492.70 C711.96 496.77 713.75 501.92 714.65 504.80 C715.55 507.68 715.46 507.47 716.30 510.00 C717.14 512.53 718.18 516.63 719.70 520.00 C721.22 523.37 723.20 526.82 725.40 530.20 C727.60 533.58 730.60 537.72 732.90 540.30 C735.20 542.88 737.87 544.63 739.20 545.70 C740.53 546.77 739.95 546.37 740.90 546.70 C741.85 547.03 743.57 547.70 744.90 547.70 C746.23 547.70 747.95 547.03 748.90 546.70 C749.85 546.37 749.27 546.77 750.60 545.70 C751.93 544.63 754.60 542.88 756.90 540.30 C759.20 537.72 762.20 533.58 764.40 530.20 C766.60 526.82 768.58 523.37 770.10 520.00 C771.62 516.63 772.66 512.53 773.50 510.00 C774.34 507.47 774.25 507.68 775.15 504.80 C776.05 501.92 777.84 496.77 778.90 492.70 C779.96 488.63 780.90 484.18 781.50 480.40 C782.10 476.62 782.24 473.82 782.50 470.00 C782.76 466.18 782.96 459.58 783.05 457.50" fill="none" stroke="#f4f4f4" stroke-width="1.8" filter="url(#b1)" opacity="0.9"/>
<path d="M783.05 457.50 C783.14 459.58 783.34 466.18 783.60 470.00 C783.86 473.82 784.00 476.62 784.60 480.40 C785.20 484.18 786.14 488.63 787.20 492.70 C788.26 496.77 790.05 501.92 790.95 504.80 C791.85 507.68 791.76 507.47 792.60 510.00 C793.44 512.53 794.48 516.63 796.00 520.00 C797.52 523.37 799.50 526.82 801.70 530.20 C803.90 533.58 806.90 537.72 809.20 540.30 C811.50 542.88 814.17 544.63 815.50 545.70 C816.83 546.77 816.25 546.37 817.20 546.70 C818.15 547.03 819.87 547.70 821.20 547.70 C822.53 547.70 824.25 547.03 825.20 546.70 C826.15 546.37 825.57 546.77 826.90 545.70 C828.23 544.63 830.90 542.88 833.20 540.30 C835.50 537.72 838.50 533.58 840.70 530.20 C842.90 526.82 844.88 523.37 846.40 520.00 C847.92 516.63 848.96 512.53 849.80 510.00 C850.64 507.47 850.55 507.68 851.45 504.80 C852.35 501.92 854.14 496.77 855.20 492.70 C856.26 488.63 857.20 484.18 857.80 480.40 C858.40 476.62 858.54 473.82 858.80 470.00 C859.06 466.18 859.26 459.58 859.35 457.50" fill="none" stroke="#f4f4f4" stroke-width="1.8" filter="url(#b1)" opacity="0.9"/>
<path d="M539 398H797V456.8L850.2 456.8 C847.2 468 835.2 477.2 821.2 477.2 C807.2 477.2 795.2 468 792.2 456.8L773.9 456.8 C770.9 468 758.9 477.2 744.9 477.2 C730.9 477.2 718.9 468 715.9 456.8L697.6 456.8 C694.6 468 682.6 477.2 668.6 477.2 C654.6 477.2 642.6 468 639.6 456.8L621.3 456.8 C618.3 468 606.3 477.2 592.3 477.2 C578.3 477.2 566.3 468 563.3 456.8L545.0 456.8 C542.0 468 530.0 477.2 516.0 477.2 C502.0 477.2 490.0 468 487.0 456.8L539 456.8Z" fill="#414141" filter="url(#b1)"/>
<rect x="551.1" y="399" width="6" height="58" fill="#5a5a5a" opacity="0.6" filter="url(#b2)"/>
<rect x="552.9" y="456" width="2.4" height="24" fill="#ffffff" opacity="0.75" filter="url(#b1)"/>
<rect x="627.4" y="399" width="6" height="58" fill="#5a5a5a" opacity="0.6" filter="url(#b2)"/>
<rect x="629.2" y="456" width="2.4" height="24" fill="#ffffff" opacity="0.75" filter="url(#b1)"/>
<rect x="703.8" y="399" width="6" height="58" fill="#5a5a5a" opacity="0.6" filter="url(#b2)"/>
<rect x="705.5" y="456" width="2.4" height="24" fill="#ffffff" opacity="0.75" filter="url(#b1)"/>
<rect x="780.0" y="399" width="6" height="58" fill="#5a5a5a" opacity="0.6" filter="url(#b2)"/>
<rect x="781.8" y="456" width="2.4" height="24" fill="#ffffff" opacity="0.75" filter="url(#b1)"/>
<rect x="540" y="399" width="256" height="182" filter="url(#grain)" opacity="0.32"/>
</g>
<text transform="translate(582.69,443.60) scale(1.0027,1)" font-size="45.50" style="fill:#fff;stroke:#fff">Teepee</text>
</g>
</g>
<g id="panel-b">
<clipPath id="clipB"><rect x="168.9" y="733.2" width="862.3" height="631.5"/></clipPath>
<g clip-path="url(#clipB)" fill="none" stroke-linejoin="miter" stroke-miterlimit="10">
<path d="M172.40 822.00 C172.90 819.47 174.05 810.18 175.40 806.80 C176.75 803.42 177.95 802.13 180.50 801.70 C183.05 801.27 186.88 804.33 190.70 804.20 C194.52 804.07 200.43 801.32 203.40 800.90 C206.37 800.48 206.38 799.45 208.50 801.70 C210.62 803.95 212.72 805.93 216.10 814.40 C219.48 822.87 225.62 842.75 228.80 852.50 C231.98 862.25 233.50 868.65 235.20 872.90 C236.90 877.15 237.73 877.58 239.00 878.00 C240.27 878.42 240.27 882.18 242.80 875.40 C245.33 868.62 250.17 850.43 254.20 837.30 C258.23 824.17 263.18 807.20 267.00 796.60 C270.82 786.00 274.78 777.82 277.10 773.70 C279.42 769.58 278.78 771.47 280.90 771.90 C283.02 772.33 286.62 775.37 289.80 776.30 C292.98 777.23 296.12 776.95 300.00 777.50 C303.88 778.05 309.43 779.85 313.10 779.60 C316.77 779.35 319.05 777.48 322.00 776.00 C324.95 774.52 327.63 771.80 330.80 770.70 C333.97 769.60 337.97 769.18 341.00 769.40 C344.03 769.62 346.45 770.93 349.00 772.00 C351.55 773.07 352.97 774.97 356.30 775.80 C359.63 776.63 363.92 777.22 369.00 777.00 C374.08 776.78 380.45 776.18 386.80 774.50 C393.15 772.82 401.17 768.80 407.10 766.90 C413.03 765.00 416.03 763.95 422.40 763.10 C428.77 762.25 439.37 762.45 445.30 761.80 C451.23 761.15 452.50 760.35 458.00 759.20 C463.50 758.05 471.95 755.83 478.30 754.90 C484.65 753.97 491.02 753.85 496.10 753.60 C501.18 753.35 506.68 753.43 508.80 753.40" stroke="#0a7f14" stroke-width="4.6" stroke-linejoin="round"/>
<polyline points="508.8,753.4 512.0,756.0 515.0,753.5 518.0,757.5 521.0,754.6 524.0,758.9 527.0,755.5 530.0,759.6 533.0,756.5 536.0,760.6 539.0,757.5 542.0,762.4 545.0,758.6 548.0,763.3 551.0,758.7 553.9,763.0 557.0,757.0 560.0,756.4 563.0,755.5 566.7,769.3 571.0,766.6 574.4,774.9 578.4,767.6 581.4,772.0 584.4,767.6 588.2,762.8 592.8,774.5 597.4,768.6 602.8,779.6 606.7,773.9 610.9,782.4 617.8,770.5 623.0,783.9 631.2,785.9 640.3,795.1 649.1,781.7 653.6,795.1 665.8,799.2 669.4,790.7 675.5,814.5 679.8,808.5 687.3,824.4 692.5,791.4 697.5,824.5 702.6,797.5 711.6,834.9 716.6,815.8 719.9,828.0 726.4,768.6 730.8,858.1 737.7,808.0 746.0,826.3 752.5,810.6 756.6,816.2 761.9,789.9 767.5,837.8 773.6,757.5 779.3,841.9 784.1,778.9 791.0,835.0 795.6,817.6 801.6,855.9 808.2,854.0 810.9,850.4 819.5,931.1 826.0,819.3 832.6,948.0 838.3,865.3 844.8,1002.5 851.4,836.2 859.4,903.1 863.9,883.1 873.1,980.4 878.7,966.8 887.2,888.1 893.0,899.9 898.3,895.2 907.0,987.3 914.5,944.6 923.4,944.6 930.1,870.5 937.8,1101.0 945.1,951.0" stroke="#0a7f14" stroke-width="4.4"/>
<polyline points="945.1,951.0 949.5,1060.0 952.9,1140.0 954.6,1205.0 956.0,1140.0 957.4,1055.4 958.6,1200.0 959.8,1362.0 961.0,1362.0 962.4,1120.0 963.6,1142.0 964.8,1095.0 965.8,1140.0 966.8,1090.0 967.7,979.7 968.8,1200.0 969.8,1340.0 970.9,1110.0 972.0,1300.0 973.4,1362.0 974.8,1362.0 976.2,1105.0 977.4,1260.0 978.4,1150.0 979.4,871.0 980.4,1200.0 981.2,1362.0 982.5,1092.0 983.8,1330.0 985.4,1088.0 986.6,1290.0 987.6,1230.0 988.4,1335.0 989.2,1362.0 992.2,1362.0 993.3,1150.0 994.3,1340.0 995.6,1362.0 996.7,936.7 997.9,1362.0 1000.0,1362.0 1001.2,1240.0 1002.0,1340.0 1002.8,1150.0 1003.8,1362.0 1005.0,1362.0 1006.0,932.2 1007.0,1250.0 1007.8,1060.0 1008.4,1000.0 1009.3,1290.0 1010.4,1012.0 1011.3,1270.0 1012.4,1022.0 1013.3,1200.0 1014.4,972.5 1015.4,1280.0 1016.4,1052.0 1017.4,1362.0 1019.6,1362.0 1020.6,1150.0 1021.6,1362.0 1022.6,1362.0 1023.3,1100.0 1024.3,1300.0 1025.4,978.6 1026.5,1362.0 1027.8,1362.0 1028.6,1100.0 1029.6,1362.0" stroke="#0a7f14" stroke-width="3.5" stroke-miterlimit="8"/>
<path d="M170.00 744.60 C205.28 744.63 340.03 744.57 381.70 744.80 C423.37 745.03 407.28 745.58 420.00 746.00 C432.72 746.42 443.00 746.72 458.00 747.30 C473.00 747.88 493.00 748.80 510.00 749.50 C527.00 750.20 544.88 750.75 560.00 751.50 C575.12 752.25 587.13 752.95 600.70 754.00 C614.27 755.05 627.85 756.03 641.40 757.80 C654.95 759.57 668.45 761.60 682.00 764.60 C695.55 767.60 712.53 772.42 722.70 775.80 C732.87 779.18 736.22 781.52 743.00 784.90 C749.78 788.28 756.62 791.87 763.40 796.10 C770.18 800.33 777.80 805.65 783.70 810.30 C789.60 814.95 793.15 817.33 798.80 824.00 C804.45 830.67 812.90 842.97 817.60 850.30 C822.30 857.63 823.87 861.73 827.00 868.00 C830.13 874.27 833.23 880.40 836.40 887.90 C839.57 895.40 842.87 903.93 846.00 913.00 C849.13 922.07 852.10 932.08 855.20 942.30 C858.30 952.52 861.78 963.02 864.60 974.30 C867.42 985.58 869.53 996.72 872.10 1010.00 C874.67 1023.28 877.22 1039.00 880.00 1054.00 C882.78 1069.00 885.35 1081.03 888.80 1100.00 C892.25 1118.97 896.75 1148.03 900.70 1167.80 C904.65 1187.57 908.40 1203.48 912.50 1218.60 C916.60 1233.72 921.05 1247.27 925.30 1258.50 C929.55 1269.73 933.97 1278.22 938.00 1286.00 C942.03 1293.78 945.68 1299.28 949.50 1305.20 C953.32 1311.12 957.13 1316.27 960.90 1321.50 C964.67 1326.73 967.68 1331.73 972.10 1336.60 C976.52 1341.47 982.52 1347.08 987.40 1350.70 C992.28 1354.32 997.15 1356.50 1001.40 1358.30 C1005.65 1360.10 1008.47 1360.80 1012.90 1361.50 C1017.33 1362.20 1025.48 1362.33 1028.00 1362.50" stroke="#df0606" stroke-width="3.4"/>
</g>
<path d="M166.0 730.0H1034.1V1368.6H166.0ZM171.9 736.4V1360.9H1028.4V736.4Z" fill="#000" fill-rule="evenodd"/>
<path d="M215.7 1367.6V1352.0M263.6 1367.6V1341.7M311.5 1367.6V1352.0M359.5 1367.6V1352.0M407.4 1367.6V1352.0M455.3 1367.6V1341.7M503.2 1367.6V1352.0M551.1 1367.6V1352.0M599.0 1367.6V1352.0M647.0 1367.6V1341.7M694.9 1367.6V1352.0M742.8 1367.6V1352.0M790.7 1367.6V1352.0M838.6 1367.6V1341.7M886.5 1367.6V1352.0M934.4 1367.6V1352.0M982.4 1367.6V1352.0" stroke="#000" stroke-width="5.6" fill="none"/><path d="M215.7 731.0V742.0M263.6 731.0V752.7M311.5 731.0V742.0M359.5 731.0V742.0M407.4 731.0V742.0M455.3 731.0V752.7M503.2 731.0V742.0M551.1 731.0V742.0M599.0 731.0V742.0M647.0 731.0V752.7M694.9 731.0V742.0M742.8 731.0V742.0M790.7 731.0V742.0M838.6 731.0V752.7M886.5 731.0V742.0M934.4 731.0V742.0M982.4 731.0V742.0" stroke="#000" stroke-width="4.6" fill="none"/><path d="M167.0 1332.1H178.9M167.0 1301.2H178.9M167.0 1270.3H178.9M167.0 1239.4H189.6M167.0 1208.5H178.9M167.0 1177.6H178.9M167.0 1146.7H178.9M167.0 1115.8H189.6M167.0 1084.9H178.9M167.0 1054.0H178.9M167.0 1023.1H178.9M167.0 992.2H189.6M167.0 961.3H178.9M167.0 930.4H178.9M167.0 899.5H178.9M167.0 868.6H189.6M167.0 837.7H178.9M167.0 806.8H178.9M167.0 775.9H178.9M167.0 745.0H189.6" stroke="#000" stroke-width="4.4" fill="none"/><path d="M1033.1 1332.1H1020.3M1033.1 1301.2H1020.3M1033.1 1270.3H1020.3M1033.1 1239.4H1009.6M1033.1 1208.5H1020.3M1033.1 1177.6H1020.3M1033.1 1146.7H1020.3M1033.1 1115.8H1009.6M1033.1 1084.9H1020.3M1033.1 1054.0H1020.3M1033.1 1023.1H1020.3M1033.1 992.2H1009.6M1033.1 961.3H1020.3M1033.1 930.4H1020.3M1033.1 899.5H1020.3M1033.1 868.6H1009.6M1033.1 837.7H1020.3M1033.1 806.8H1020.3M1033.1 775.9H1020.3M1033.1 745.0H1009.6" stroke="#000" stroke-width="4.8" fill="none"/>
<clipPath id="clipB2"><rect x="166.5" y="736.4" width="861.9" height="631.1"/></clipPath>
<polyline clip-path="url(#clipB2)" points="167.5,1365.5 168.8,1364.4 170.1,1361.9 171.6,1360.3 173.1,1357.6 174.6,1355.5 176.1,1349.8 177.6,1344.7 179.1,1339.2 180.6,1327.3 182.1,1323.6 183.5,1315.4 184.8,1310.2 186.2,1299.5 187.7,1293.3 189.2,1285.4 190.7,1273.7 192.2,1257.2 193.2,1241.0 194.7,1231.2 196.1,1226.0 198.4,1234.1 200.4,1228.5 202.7,1250.1 204.3,1229.3 205.9,1208.9 207.3,1207.5 209.0,1222.8 210.7,1241.1 212.1,1226.3 213.4,1210.9 214.8,1204.2 216.2,1196.5 217.6,1202.0 218.8,1185.4 220.0,1174.6 221.7,1206.7 223.4,1242.1 224.9,1209.1 226.4,1178.7 227.8,1166.4 229.1,1150.8 230.5,1134.4 232.5,1160.5 233.7,1143.4 234.9,1130.3 236.2,1153.6 237.6,1171.1 238.9,1194.8 240.8,1147.2 242.6,1098.1 244.3,1139.5 245.9,1182.4 247.6,1229.0 248.9,1207.1 250.3,1178.9 251.6,1156.5 252.9,1135.0 254.3,1119.8 255.6,1097.1 257.2,1247.1 258.4,1175.8 259.7,1100.1 261.7,1233.0 262.1,1021.2 263.6,1002.9 265.2,990.0 266.7,1011.6 268.2,1021.2 269.7,1002.6 271.2,983.0 272.2,1014.0 273.2,1040.3 274.7,1004.8 276.2,976.9 277.5,981.3 278.7,976.8 280.0,979.1 281.3,971.7 282.8,994.5 284.2,1006.9 285.5,999.6 286.8,997.4 288.0,1003.5 289.1,1008.9 290.3,1021.2 291.9,1065.9 293.4,1119.9 294.4,954.8 295.9,978.2 297.4,1013.0 298.4,969.7 299.4,931.6 300.4,1001.1 301.7,974.2 303.1,938.2 304.4,916.5 305.6,932.9 306.7,942.6 307.9,958.8 309.5,896.4 310.8,877.3 312.1,863.2 313.1,897.0 314.1,922.6 315.2,912.0 316.3,899.4 317.4,891.2 318.4,881.1 319.4,886.1 320.3,885.7 321.4,876.2 322.4,884.3 323.5,874.3 324.7,872.7 325.9,886.8 327.0,892.6 328.2,892.8 329.3,879.4 330.4,882.2 331.5,869.6 332.6,864.2 333.8,864.6 334.9,856.6 336.1,856.6 337.2,857.7 338.4,867.2 339.5,856.7 340.7,860.1 342.0,868.8 343.4,876.4 344.7,876.2 346.1,970.9 347.3,939.7 348.5,895.0 349.7,860.1 350.7,880.4 351.7,904.4 353.0,879.1 354.4,853.1 355.5,864.5 356.6,863.6 357.7,879.7 358.8,884.3 360.1,893.7 361.5,900.0 362.8,900.8 364.3,873.9 365.8,859.1 367.4,883.5 368.9,896.4 370.2,873.9 371.5,862.1 372.6,888.2 373.7,919.9 374.8,952.1 375.9,974.9 377.1,949.2 378.4,933.1 379.6,904.5 380.9,880.3 382.0,895.2 383.1,912.6 384.3,928.2 385.4,949.7 386.6,914.0 387.8,884.7 389.0,859.1 390.0,893.3 391.0,922.6 392.2,908.6 393.4,877.2 394.6,861.1 395.8,876.4 396.9,909.8 398.1,924.6 399.4,911.4 400.7,896.1 402.0,883.8 403.6,885.3 405.1,893.6 406.4,891.1 407.7,890.4 408.9,882.5 410.1,886.2 411.2,890.0 412.3,889.5 413.5,905.0 414.6,897.8 415.8,908.2 417.0,899.8 418.3,891.6 419.5,903.2 420.7,901.3 422.0,916.3 423.2,920.5 424.5,926.7 425.9,922.9 427.2,921.5 428.4,923.6 429.6,913.2 430.9,915.8 432.1,910.5 433.3,913.5 434.5,913.5 435.7,901.8 436.9,899.4 438.2,902.0 439.4,891.0 440.6,898.7 441.9,903.4 443.1,900.4 444.1,932.0 445.1,964.8 446.2,948.5 447.2,935.5 448.3,916.3 449.9,918.5 451.0,915.6 452.2,910.6 453.4,910.7 454.5,911.1 455.6,909.4 456.7,915.6 458.0,909.9 459.3,913.7 460.5,903.2 461.6,909.8 462.8,906.1 463.9,905.1 465.1,903.7 466.2,906.4 467.3,904.9 468.3,911.1 469.4,921.5 470.5,921.6 471.7,921.8 473.0,913.2 474.2,911.1 475.6,918.5 476.9,922.9 478.3,924.6 479.8,932.6 481.3,938.3 482.8,942.6 484.6,944.3 486.4,940.7 488.0,930.8 489.6,925.6 491.1,915.0 492.8,914.6 494.4,918.5 496.1,917.2 497.9,916.1 499.3,925.4 500.8,931.3 502.2,936.1 503.6,925.2 504.9,918.5 506.7,962.7 508.5,998.0 510.0,968.8 511.5,936.6 513.2,936.7 514.9,930.4 516.6,934.6 518.3,931.1 520.0,924.1 521.7,922.6 523.1,927.3 524.6,928.6 526.1,928.5 527.7,932.3 529.2,930.8 530.7,929.6 532.4,934.9 534.0,932.7 535.7,936.6 537.7,980.9 538.7,1065.5 540.2,1024.6 541.7,980.9 543.1,979.3 544.4,976.2 545.8,968.9 547.1,961.3 548.4,956.7 549.8,965.2 551.1,966.8 552.7,967.2 554.2,962.0 555.8,956.8 557.3,961.8 558.8,961.9 560.4,957.7 561.9,957.8 563.6,962.3 565.2,964.5 566.9,970.9 568.2,1027.3 569.5,1079.6 570.7,1032.9 571.9,980.9 573.2,1011.6 574.5,1042.7 576.0,1043.4 577.5,1043.1 579.0,1041.3 580.5,1029.1 582.0,1012.1 583.5,1002.2 585.0,986.9 586.8,990.1 588.7,992.3 590.3,988.5 591.9,982.2 593.4,977.8 595.0,979.6 596.5,981.6 598.0,981.8 599.6,983.3 601.1,983.0 602.6,981.2 604.2,983.0 605.7,985.6 607.2,987.0 608.5,1100.0 610.5,1318.2 611.7,1234.5 612.9,1149.0 614.1,1087.0 615.4,1028.3 617.2,1016.1 619.0,1001.7 620.4,1002.2 621.9,998.5 623.3,1000.8 624.8,999.1 626.2,1000.5 627.7,999.0 629.1,1000.7 630.6,1003.1 632.0,1003.5 633.5,1006.6 635.3,1013.2 637.1,1023.5 638.7,1022.3 640.3,1026.5 641.9,1028.3 643.6,1025.1 645.4,1023.3 646.7,1027.0 648.1,1029.9 649.5,1032.4 651.2,1028.6 653.0,1028.0 654.4,1034.1 655.9,1032.4 657.3,1038.5 658.8,1042.8 660.6,1074.1 662.5,1108.0 663.9,1090.2 665.4,1071.1 666.8,1056.1 669.0,1156.3 670.5,1111.2 672.1,1062.1 673.3,1080.7 674.5,1100.8 676.0,1085.9 677.5,1077.3 679.1,1062.1 680.6,1052.5 682.0,1052.4 683.3,1050.8 684.7,1051.9 686.1,1053.8 687.5,1052.6 688.8,1049.9 690.2,1050.0 691.8,1055.9 693.5,1058.9 695.1,1062.1 696.9,1080.7 698.7,1100.8 700.2,1077.5 701.6,1058.5 703.0,1058.8 704.4,1058.3 705.7,1060.3 707.1,1057.3 708.5,1082.5 710.0,1102.0 711.9,1085.0 713.8,1066.7 715.1,1066.4 716.5,1070.2 717.8,1065.3 719.1,1066.5 720.4,1069.4 721.7,1073.3 723.1,1077.2 724.4,1080.1 725.9,1075.5 727.4,1076.1 728.9,1073.0 730.4,1076.8 731.9,1075.3 733.4,1077.1 734.9,1079.0 736.8,1095.5 738.6,1115.3 740.2,1153.9 741.7,1195.0 743.2,1168.8 744.6,1137.0 745.8,1119.4 747.0,1103.2 748.8,1135.1 750.6,1161.4 752.2,1160.3 753.7,1154.3 755.6,1165.2 757.6,1174.9 759.0,1162.9 760.5,1154.7 761.9,1141.7 763.4,1130.7 765.2,1136.9 767.5,1130.3 769.3,1163.5 771.2,1197.4 772.4,1220.8 773.6,1245.7 775.5,1320.0 776.8,1291.9 778.0,1260.0 779.6,1238.5 781.2,1217.0 782.0,1278.0 783.3,1258.5 784.6,1240.7 785.9,1272.8 787.1,1305.0 788.7,1256.1 790.2,1210.2 790.8,1320.3 792.3,1276.7 793.9,1232.2 795.1,1256.6 796.4,1281.4 798.1,1220.3 799.6,1216.1 801.1,1214.7 802.6,1211.5 804.1,1206.8 805.6,1205.3 807.0,1207.7 808.9,1175.2 810.8,1142.4 812.2,1153.6 813.6,1168.3 814.9,1178.7 817.2,1171.1 818.2,1173.0 819.6,1158.8 821.0,1142.4 822.4,1138.0 823.9,1134.7 825.3,1132.2 826.8,1130.5 828.3,1133.5 829.9,1130.4 831.4,1131.3 832.9,1130.5 834.3,1131.4 835.6,1133.1 837.0,1134.0 838.3,1135.6 839.7,1135.6 841.2,1140.2 842.8,1147.8 844.7,1140.7 846.1,1142.3 847.5,1141.0 849.0,1142.5 850.4,1142.3 851.8,1142.7 853.2,1144.1 854.6,1145.3 856.0,1146.2 857.5,1146.9 858.9,1149.5 860.3,1150.0 861.7,1150.8 863.1,1149.7 864.5,1151.2 865.9,1152.7 867.3,1155.3 868.7,1155.9 870.2,1155.2 871.6,1153.8 873.0,1157.6 874.4,1156.9 875.8,1158.2 877.2,1159.4 878.6,1159.3 879.9,1160.7 881.2,1161.1 882.5,1163.7 883.8,1162.5 885.1,1163.4 886.4,1166.2 887.8,1164.5 889.1,1165.8 890.4,1168.9 891.7,1166.7 893.0,1170.7 894.3,1171.1 895.6,1171.2 897.0,1171.3 898.3,1171.0 899.7,1173.3 901.0,1174.2 902.4,1171.5 903.8,1173.2 905.1,1173.8 906.5,1173.9 907.8,1173.6 909.2,1174.6 910.3,1171.4 911.3,1177.5 912.4,1181.1 913.5,1173.1 914.6,1176.0 915.6,1183.9 916.7,1184.5 917.8,1183.9 918.9,1177.2 919.9,1186.5 921.0,1184.7 922.1,1189.9 923.3,1189.6 924.4,1185.4 925.6,1177.1 926.7,1181.9 928.3,1195.2 929.8,1200.3 930.8,1192.8 931.9,1192.0 933.1,1199.6 934.4,1209.1 935.7,1212.0 936.9,1215.3 937.9,1209.4 938.8,1212.3 940.4,1220.7 941.9,1234.0 942.8,1235.7 943.7,1227.5 944.8,1238.0 945.9,1258.3 947.0,1270.6 948.1,1286.4 949.5,1305.0 950.2,1305.3 951.4,1335.3 952.5,1301.4 953.6,1337.2 954.8,1299.3 955.9,1347.6 957.1,1285.5 958.2,1339.6 959.4,1283.8 960.5,1350.6 961.7,1288.9 962.8,1349.8 964.0,1287.0 965.1,1352.3 966.3,1294.7 967.4,1356.7 968.6,1293.2 969.7,1335.6 970.9,1284.8 972.0,1326.6 973.2,1280.0 974.3,1334.3 975.5,1278.9 976.6,1325.1 977.8,1277.1 978.9,1331.2 980.1,1289.6 981.2,1323.1 982.4,1286.8 983.5,1314.6 984.7,1282.5 985.8,1311.3 987.8,1280.2 988.2,1280.3 989.7,1265.8 991.1,1254.6 992.6,1241.0 993.8,1219.3 995.0,1233.4 996.3,1251.2 998.0,1221.0 999.5,1249.0 1001.0,1219.0 1002.5,1237.4 1004.0,1258.9 1005.5,1236.5 1007.0,1215.0 1008.3,1212.8 1009.6,1214.1 1011.3,1238.5 1012.9,1266.5 1015.0,1216.0 1017.0,1255.0 1018.1,1257.1 1019.6,1235.9 1021.0,1214.0 1023.0,1245.0 1024.4,1232.1 1026.5,1224.5 1028.5,1236.0" stroke="#df0606" stroke-width="4.3" fill="none" stroke-linejoin="miter" stroke-miterlimit="10"/>
<rect x="1028.4" y="730.0" width="5.7" height="638.6" fill="#000"/>
<path d="M1033.1 1332.1H1020.3M1033.1 1301.2H1020.3M1033.1 1270.3H1020.3M1033.1 1239.4H1009.6M1033.1 1208.5H1020.3M1033.1 1177.6H1020.3M1033.1 1146.7H1020.3M1033.1 1115.8H1009.6M1033.1 1084.9H1020.3M1033.1 1054.0H1020.3M1033.1 1023.1H1020.3M1033.1 992.2H1009.6M1033.1 961.3H1020.3M1033.1 930.4H1020.3M1033.1 899.5H1020.3M1033.1 868.6H1009.6M1033.1 837.7H1020.3M1033.1 806.8H1020.3M1033.1 775.9H1020.3M1033.1 745.0H1009.6" stroke="#000" stroke-width="4.8" fill="none"/>
<line x1="852.4" y1="751.5" x2="851.8" y2="803.5" stroke="#f70a0a" stroke-width="6.2"/><polygon points="851.5,824.0 840.5,802.4 863.0,802.6" fill="#f70a0a"/>
<line x1="894.3" y1="818.5" x2="894.0" y2="864.5" stroke="#f70a0a" stroke-width="6.2"/><polygon points="893.8,885.0 882.7,863.4 905.2,863.6" fill="#f70a0a"/>
<line x1="238.2" y1="888" x2="238.2" y2="930" stroke="#000" stroke-width="5"/>
<line x1="341.4" y1="818.8" x2="372.8" y2="818.8" stroke="#0a7f14" stroke-width="5.2"/>
<text transform="translate(381.30,831.00) scale(0.9924,1)" font-size="40.50">Theory</text>
<text transform="translate(521.08,831.00) scale(0.8293,1)" font-size="40.50">(</text>
<text transform="translate(534.07,831.30) scale(1.1143,1)" font-size="40.50" style="font-family:'Liberation Serif','Times New Roman',serif">θ</text>
<text transform="translate(555.74,831.00) scale(1.0157,1)" font-size="40.50">=0</text>
<text transform="translate(602.87,820.70) scale(1.0072,1)" font-size="25.50">o</text>
<text transform="translate(618.62,831.00) scale(0.8852,1)" font-size="40.50">)</text>
<text transform="translate(889.04,804.00) scale(0.9979,1)" font-size="45.30">Comp.</text>
<text transform="translate(0.54,767.40) scale(1.0765,1)" font-size="50.50">(b)</text>
<text transform="translate(122.96,759.70) scale(1.0000,1)" font-size="43.60">1</text>
<text transform="translate(86.34,883.30) scale(1.0000,1)" font-size="43.60">0.8</text>
<text transform="translate(86.34,1006.90) scale(1.0000,1)" font-size="43.60">0.6</text>
<text transform="translate(85.69,1130.50) scale(1.0000,1)" font-size="43.60">0.4</text>
<text transform="translate(86.78,1254.10) scale(1.0000,1)" font-size="43.60">0.2</text>
<text transform="translate(122.53,1377.70) scale(1.0000,1)" font-size="43.60">0</text>
<text x="1042.2" y="751.0" font-size="43.6">2</text>
<text x="1042.2" y="875.2" font-size="43.6">1.6</text>
<text x="1042.2" y="999.4" font-size="43.6">1.2</text>
<text x="1042.2" y="1123.6" font-size="43.6">0.8</text>
<text x="1042.2" y="1247.8" font-size="43.6">0.4</text>
<text x="1042.2" y="1372.0" font-size="43.6">0</text>
<text transform="translate(48.20,1295.60) rotate(-90) scale(0.9916,1.0000)" font-size="48.50">Absorption Coefficient</text>
<text id="rlabel" transform="translate(1170.1,1381.3) rotate(-90) scale(1.0,1.045)" font-size="48.2">AM1.5G Spectrum (W*m<tspan font-size="31.5" dy="-26.4">-2</tspan><tspan dy="26.4">*nm</tspan><tspan font-size="31.5" dy="-26.4">-1</tspan><tspan dy="26.4">)</tspan></text>
<text transform="translate(222.53,1418.00) scale(1.0001,1)" font-size="43.60">400</text>
<text transform="translate(413.09,1418.00) scale(1.0118,1)" font-size="43.60">600</text>
<text transform="translate(606.17,1418.00) scale(0.9825,1)" font-size="43.60">800</text>
<text transform="translate(787.34,1418.00) scale(0.9651,1)" font-size="43.60">1000</text>
<text transform="translate(979.87,1418.00) scale(0.9576,1)" font-size="43.60">1200</text>
<text transform="translate(435.06,1478.50) scale(1.0042,1)" font-size="48.00">Wavelength (nm)</text>
<text transform="translate(616.60,1331.70) scale(0.9889,1)" font-size="38.00">AM1.5G</text>
<line x1="702.5" y1="1295.3" x2="751.9" y2="1261.4" stroke="#000" stroke-width="6.0"/><polygon points="768.8,1249.8 756.9,1270.4 745.3,1253.5" fill="#000"/>
</g>
</svg>
</body></html>
